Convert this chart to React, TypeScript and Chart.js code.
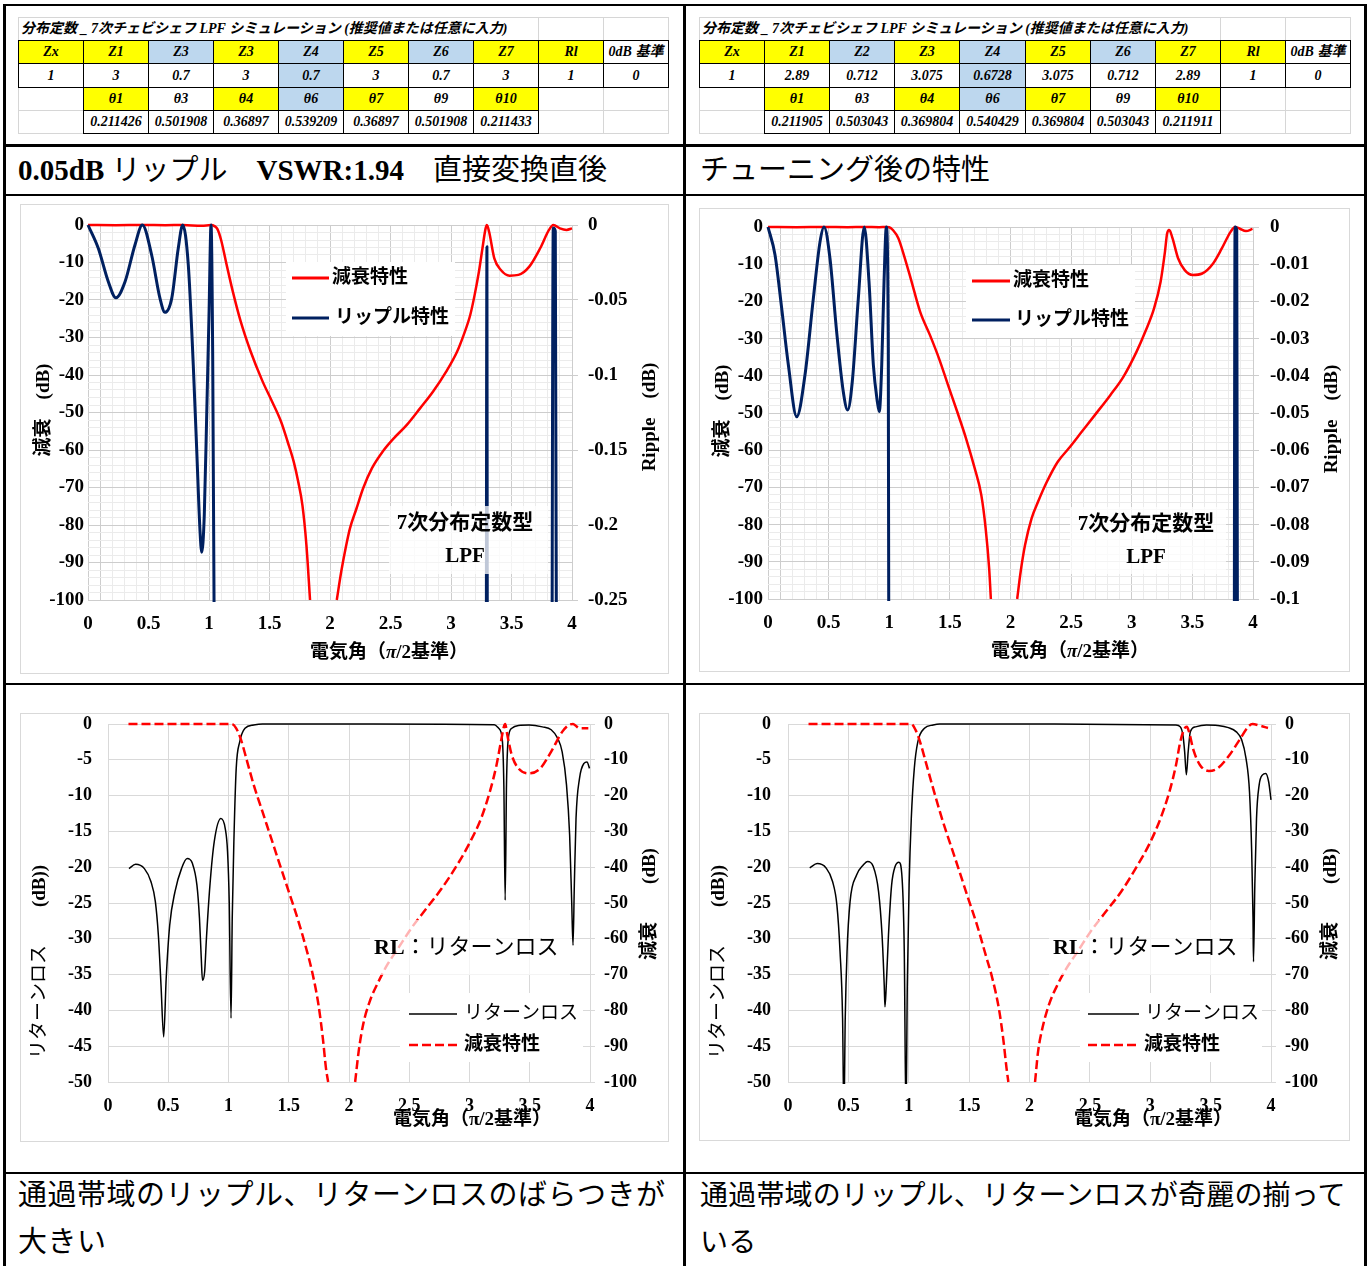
import React, { useEffect, useRef } from "react";
import { Chart, registerables } from "chart.js";

Chart.register(...registerables);

const SERIF = '"Liberation Serif", "Noto Sans CJK JP", serif';
const JP = '"Liberation Serif", "Noto Sans CJK JP", sans-serif';

// ---------- curve data (electrical angle in units of π/2, values in dB) ----------

// Straight conversion: attenuation
const ANGLE_ATT_BEFORE = [0, 0.23, 0.45, 0.64, 0.78, 0.94, 1.017, 1.045, 1.07, 1.1, 1.145, 1.195, 1.26, 1.345, 1.44, 1.52, 1.595, 1.65, 1.7, 1.737, 1.772, 1.805, 1.835, 1.95, 2.056, 2.093, 2.129, 2.165, 2.219, 2.274, 2.346, 2.436, 2.527, 2.635, 2.744, 2.852, 2.96, 3.05, 3.105, 3.159, 3.195, 3.231, 3.26, 3.286, 3.297, 3.315, 3.358, 3.412, 3.484, 3.557, 3.647, 3.737, 3.81, 3.846, 3.9, 3.955, 4];
const ATT_BEFORE = [0, -0.05, 0, -0.06, 0, -0.22, 0, -0.3, -1.1, -4, -10.5, -17.5, -25.5, -33.8, -41.5, -47, -52.4, -57.8, -63.1, -68.4, -74.7, -85.3, -100, null, -100, -92.4, -86.2, -80.9, -75.6, -70.2, -64.9, -60.4, -56.9, -53.3, -48.9, -44.4, -39.1, -33.8, -29.3, -24, -18.7, -12.4, -6.2, -0.9, 0, -1.8, -8.9, -12, -13.5, -13.3, -11.1, -6.2, -1.3, 0, -0.9, -1.3, -0.9];

// Straight conversion: passband ripple
const ANGLE_RIP_BEFORE = [0, 0.085, 0.168, 0.231, 0.306, 0.388, 0.449, 0.526, 0.595, 0.636, 0.692, 0.746, 0.783, 0.829, 0.87, 0.898, 0.926, 0.94, 0.961, 0.981, 1.0, 1.017, 1.03, 1.045, 1.07, 2.0, 3.286, 3.297, 3.315, 3.6, 3.83, 3.845, 3.862, 3.88, 3.9];
const RIP_BEFORE = [0, -0.0155, -0.0378, -0.0485, -0.0378, -0.0133, 0, -0.02, -0.0489, -0.0582, -0.0489, -0.0155, 0, -0.0267, -0.0933, -0.1489, -0.2044, -0.2182, -0.1933, -0.1267, -0.06, 0, -0.082, -0.3, -1.1, null, -0.9, -0.0145, -1.8, null, -0.5, -0.002, -0.004, -0.6, -0.9];

// After tuning: attenuation
const ANGLE_ATT_AFTER = [0, 0.237, 0.462, 0.657, 0.794, 0.918, 0.976, 1.0, 1.03, 1.075, 1.125, 1.18, 1.255, 1.335, 1.41, 1.485, 1.56, 1.633, 1.705, 1.759, 1.795, 1.824, 1.838, 1.95, 2.055, 2.084, 2.12, 2.174, 2.228, 2.3, 2.39, 2.481, 2.589, 2.697, 2.823, 2.932, 3.04, 3.112, 3.184, 3.238, 3.274, 3.292, 3.31, 3.336, 3.382, 3.437, 3.502, 3.581, 3.671, 3.744, 3.815, 3.852, 3.888, 3.942, 3.996];
const ATT_AFTER = [0, -0.051, 0, -0.049, 0, -0.05, 0, -0.05, -0.8, -3, -8, -14.2, -22.8, -29, -35.3, -42.5, -49.6, -56.8, -64.9, -72, -81, -91.8, -100, null, -100, -92.6, -85.5, -78.3, -73.8, -68.5, -63.1, -59.5, -55, -50.5, -45.2, -40.2, -33.5, -28.1, -21.9, -14.7, -6.6, -1.7, -0.8, -3, -8.4, -11.6, -12.9, -12.5, -9.8, -5.7, -1.3, 0, -0.4, -1.1, -0.5];

// After tuning: passband ripple
const ANGLE_RIP_AFTER = [0, 0.058, 0.113, 0.168, 0.237, 0.305, 0.374, 0.429, 0.462, 0.511, 0.566, 0.621, 0.657, 0.695, 0.745, 0.794, 0.833, 0.869, 0.902, 0.918, 0.938, 0.957, 0.976, 0.992, 1.03, 2.0, 3.84, 3.852, 3.866, 3.88, 3.942];
const RIP_AFTER = [0, -0.0075, -0.0219, -0.0371, -0.051, -0.0398, -0.0192, -0.004, 0, -0.0084, -0.0281, -0.0443, -0.0492, -0.0416, -0.0192, 0, -0.0147, -0.0371, -0.047, -0.0496, -0.0371, -0.0147, 0, -0.0326, -0.8, null, -0.3, 0, -0.0008, -0.3, -1.1];

// Straight conversion: return loss and attenuation
const ANGLE_RL_BEFORE = [0.174, 0.229, 0.302, 0.356, 0.393, 0.418, 0.44, 0.462, 0.483, 0.512, 0.556, 0.61, 0.657, 0.701, 0.738, 0.759, 0.774, 0.784, 0.802, 0.817, 0.846, 0.882, 0.937, 0.973, 0.992, 1.006, 1.021, 1.031, 1.046, 1.064, 1.093, 1.137, 1.209, 1.282, 2.2, 3.206, 3.242, 3.271, 3.285, 3.296, 3.307, 3.322, 3.351, 3.406, 3.496, 3.605, 3.678, 3.732, 3.769, 3.805, 3.831, 3.848, 3.859, 3.87, 3.884, 3.913, 3.95, 3.975, 3.996];
const RL_BEFORE = [-20.2, -19.6, -20.2, -22, -24.8, -29.5, -36.5, -43.7, -35.5, -28.1, -23.4, -20.2, -18.8, -19.5, -22.5, -27.1, -32.7, -35.8, -34.6, -29.9, -22.5, -16.4, -13.2, -14.6, -17.8, -24.8, -41.1, -27.1, -15.5, -6.2, -2.5, -0.6, -0.14, 0, 0, -0.1, -0.6, -2, -8.5, -24.6, -8.5, -2, -0.6, -0.2, -0.14, -0.4, -0.8, -2, -3.9, -8.5, -15.5, -24.8, -30.9, -22.5, -13.2, -7.6, -5.5, -5.3, -6.2];
const ANGLE_LOSS_BEFORE = [0.17, 1.027, 1.064, 1.1, 1.155, 1.209, 1.282, 1.354, 1.427, 1.5, 1.573, 1.645, 1.7, 1.747, 1.783, 1.809, 1.827, 1.95, 2.051, 2.08, 2.117, 2.171, 2.244, 2.317, 2.407, 2.516, 2.643, 2.77, 2.897, 3.006, 3.097, 3.169, 3.224, 3.261, 3.285, 3.296, 3.314, 3.351, 3.406, 3.496, 3.587, 3.678, 3.769, 3.823, 3.859, 3.913, 3.986];
const LOSS_BEFORE = [0, 0, -1.2, -4, -10.5, -17, -24.5, -31.9, -39.4, -46.8, -54.3, -62.7, -70.1, -78.5, -87.8, -96.2, -100, null, -100, -91.5, -84, -77.6, -72, -67.3, -62.7, -57.1, -51.5, -45.9, -39.4, -32.9, -26.3, -18.9, -11.5, -4.9, -0.8, 0, -3.1, -8.7, -12.4, -13.8, -12.4, -7.7, -2.2, -0.3, 0, -1.2, -1.2];

// After tuning: return loss and attenuation
const ANGLE_RL_AFTER = [0.18, 0.242, 0.315, 0.369, 0.405, 0.431, 0.452, 0.463, 0.474, 0.489, 0.514, 0.568, 0.623, 0.659, 0.706, 0.75, 0.779, 0.797, 0.803, 0.814, 0.832, 0.858, 0.887, 0.919, 0.945, 0.963, 0.977, 0.988, 1.003, 1.021, 1.046, 1.075, 1.13, 1.202, 1.256, 2.2, 3.212, 3.249, 3.27, 3.285, 3.299, 3.314, 3.332, 3.375, 3.466, 3.557, 3.647, 3.713, 3.757, 3.793, 3.822, 3.84, 3.851, 3.855, 3.866, 3.88, 3.902, 3.93, 3.956, 3.981, 4.0];
const RL_AFTER = [-20.1, -19.5, -20.1, -22, -25.3, -31.8, -41.1, -55, -41.1, -31.8, -24.8, -21.1, -19.7, -19.2, -19.9, -23.4, -29.5, -36.5, -39.5, -36.5, -29.5, -22.5, -19.9, -19.3, -21.6, -31.8, -55, -36.5, -22.5, -13.2, -6.2, -2.5, -0.6, -0.14, 0, 0, -0.14, -0.4, -1.5, -3.9, -7.1, -3.9, -1.1, -0.4, -0.14, -0.2, -0.5, -1.1, -2.2, -4.8, -9.5, -17.8, -27.1, -33.2, -22.5, -13.2, -8.5, -7.1, -6.9, -8.1, -10.6];
const ANGLE_LOSS_AFTER = [0.17, 1.021, 1.057, 1.093, 1.148, 1.202, 1.274, 1.347, 1.42, 1.492, 1.565, 1.637, 1.692, 1.746, 1.782, 1.81, 1.825, 1.95, 2.046, 2.071, 2.108, 2.162, 2.234, 2.307, 2.398, 2.506, 2.633, 2.76, 2.887, 2.996, 3.086, 3.159, 3.213, 3.249, 3.285, 3.303, 3.321, 3.358, 3.413, 3.485, 3.557, 3.647, 3.738, 3.81, 3.847, 3.902, 3.975];
const LOSS_AFTER = [0, 0, -1.7, -4.9, -11.5, -18, -26.3, -33.8, -41.2, -48.7, -56.1, -64.5, -71, -79.4, -87.8, -96.2, -100, null, -100, -91.5, -84.8, -78.3, -72.7, -68.2, -63.6, -58, -52.4, -46.8, -39.9, -33.3, -26.3, -18.9, -11.5, -4.9, -1.2, -0.8, -2.2, -7.3, -11.5, -13.1, -12.4, -9.1, -4.5, -0.8, 0, -0.4, -1.1];

// ---------- axis ranges ----------
const ANGLE_RANGE = [0, 4];
const ATT_RANGE = [-100, 0];
const RIPPLE_RANGE_BEFORE = [-0.25, 0];
const RIPPLE_RANGE_AFTER = [-0.1, 0];
const RL_RANGE = [-50, 0];

// ---------- spreadsheet contents ----------
const SHEET_TITLE = "分布定数 _ 7次チェビシェフ LPF シミュレーション (推奨値または任意に入力)";
const HEAD_BEFORE = ["Zx", "Z1", "Z3", "Z3", "Z4", "Z5", "Z6", "Z7", "Rl", "0dB 基準"];
const HEAD_AFTER = ["Zx", "Z1", "Z2", "Z3", "Z4", "Z5", "Z6", "Z7", "Rl", "0dB 基準"];
const Z_BEFORE = ["1", "3", "0.7", "3", "0.7", "3", "0.7", "3", "1", "0"];
const Z_AFTER = ["1", "2.89", "0.712", "3.075", "0.6728", "3.075", "0.712", "2.89", "1", "0"];
const THETA_NAMES = ["θ1", "θ3", "θ4", "θ6", "θ7", "θ9", "θ10"];
const THETA_BEFORE = ["0.211426", "0.501908", "0.36897", "0.539209", "0.36897", "0.501908", "0.211433"];
const THETA_AFTER = ["0.211905", "0.503043", "0.369804", "0.540429", "0.369804", "0.503043", "0.211911"];
const HEAD_FILL = "YYBYBYBYYW";
const Z_FILL = "WWWWBWWWWW";
const THETA_FILL = "YWYBYWY";
const FILL: Record<string, string> = { Y: "#ffff00", B: "#bdd7ee", W: "#ffffff" };

const RED = "#ff0000";
const NAVY = "#002060";
const MAJOR = "#cdcdcd";
const MINOR = "#ebebeb";
const PLAIN_GRID = "#d9d9d9";

type Run = { t: string; b?: boolean; i?: boolean };
type TextItem = { runs: Run[]; x: number; y: number; size: number; rot?: boolean; align?: "left" | "center" };
type LegendItem = { x1: number; x2: number; y: number; color: string; width: number; dash?: number[]; tx: number; runs: Run[]; size: number };
type Box = { x1: number; y1: number; x2: number; y2: number; a: number };

const pts = (xs: number[], ys: (number | null)[]) => xs.map((x, i) => ({ x, y: ys[i] }));
const near = (v: number, m: number) => Math.abs(v / m - Math.round(v / m)) < 1e-6;
const clean = (v: number) => String(Math.round(v * 1000) / 1000);

function fontOf(r: Run, size: number) {
  return `${r.i ? "italic " : ""}${r.b ? "bold " : ""}${size}px ${SERIF}`;
}

function drawRuns(ctx: CanvasRenderingContext2D, runs: Run[], x: number, y: number, size: number, align: string, rot: boolean) {
  ctx.save();
  ctx.translate(x, y);
  if (rot) ctx.rotate(-Math.PI / 2);
  ctx.textBaseline = "middle";
  ctx.textAlign = "left";
  ctx.fillStyle = "#000";
  let total = 0;
  const widths = runs.map((r) => {
    ctx.font = fontOf(r, size);
    const w = ctx.measureText(r.t).width;
    total += w;
    return w;
  });
  let cx = align === "center" ? -total / 2 : 0;
  runs.forEach((r, k) => {
    ctx.font = fontOf(r, size);
    ctx.fillText(r.t, cx, 0);
    cx += widths[k];
  });
  ctx.restore();
}

type Panel = {
  frame: [number, number, number, number];
  area: [number, number, number, number];
  fine: boolean;
  xStep: number;
  yL: number[];
  yLStep: number;
  yR: number[];
  yRStep: number;
  tickSize: number;
  leftPad: number;
  rightTick: number;
  rightPad: number;
  xPad: number;
  datasets: any[];
  texts: TextItem[];
  legend: LegendItem[];
  boxes: Box[];
};

function decorations(p: Panel) {
  return {
    id: "decorations",
    afterDatasetsDraw(chart: any) {
      const ctx: CanvasRenderingContext2D = chart.ctx;
      const [fl, ft] = p.frame;
      ctx.save();
      for (const b of p.boxes) {
        ctx.fillStyle = `rgba(255,255,255,${b.a})`;
        ctx.fillRect(b.x1 - fl, b.y1 - ft, b.x2 - b.x1, b.y2 - b.y1);
      }
      for (const l of p.legend) {
        ctx.beginPath();
        ctx.strokeStyle = l.color;
        ctx.lineWidth = l.width;
        ctx.setLineDash(l.dash || []);
        ctx.moveTo(l.x1 - fl, l.y - ft);
        ctx.lineTo(l.x2 - fl, l.y - ft);
        ctx.stroke();
        ctx.setLineDash([]);
        drawRuns(ctx, l.runs, l.tx - fl, l.y - ft, l.size, "left", false);
      }
      for (const t of p.texts) drawRuns(ctx, t.runs, t.x - fl, t.y - ft, t.size, t.align || "center", !!t.rot);
      ctx.restore();
    },
  };
}

// fix an axis box to a given size and drop its label overhang so the plot area lands where intended
const fixWidth = (w: number) => (s: any) => {
  s.width = w;
  s.paddingTop = 0;
  s.paddingBottom = 0;
};
const fixHeight = (h: number) => (s: any) => {
  s.height = h;
  s.paddingLeft = 0;
  s.paddingRight = 0;
};

function buildConfig(p: Panel): any {
  const [fl, ft, fw, fh] = p.frame;
  const [al, at, ar, ab] = p.area;
  const tickFont = { family: SERIF, size: p.tickSize, weight: "bold" };
  const xColor = (c: any) => {
    const v = c.tick ? c.tick.value : 0;
    if (!p.fine) return PLAIN_GRID;
    return near(v, 0.5) || Math.abs(v - 0.1) < 1e-6 ? MAJOR : MINOR;
  };
  const yColor = (c: any) => {
    const v = c.tick ? c.tick.value : 0;
    if (!p.fine) return PLAIN_GRID;
    return near(v, 10) ? MAJOR : MINOR;
  };
  return {
    type: "line",
    data: { datasets: p.datasets },
    options: {
      responsive: false,
      animation: false,
      events: [],
      layout: { autoPadding: false, padding: { top: at - ft, left: 0, right: 0, bottom: 0 } },
      plugins: { legend: { display: false }, tooltip: { enabled: false }, title: { display: false } },
      scales: {
        x: {
          type: "linear",
          position: "bottom",
          min: ANGLE_RANGE[0],
          max: ANGLE_RANGE[1],
          afterFit: fixHeight(ft + fh - ab),
          border: { display: false },
          grid: { color: xColor, lineWidth: 1, drawTicks: false },
          ticks: {
            stepSize: p.xStep,
            maxTicksLimit: 1000,
            autoSkip: false,
            maxRotation: 0,
            minRotation: 0,
            padding: p.xPad,
            color: "#000",
            font: tickFont,
            callback: (v: number) => (near(v, 0.5) ? clean(v) : ""),
          },
        },
        y: {
          type: "linear",
          position: "left",
          min: p.yL[0],
          max: p.yL[1],
          afterFit: fixWidth(al - fl),
          border: { display: false },
          grid: { color: yColor, lineWidth: 1, drawTicks: false },
          ticks: {
            stepSize: p.yLStep,
            maxTicksLimit: 1000,
            autoSkip: false,
            padding: p.leftPad,
            color: "#000",
            font: tickFont,
            callback: (v: number) => (!p.fine || near(v, 10) ? clean(v) : ""),
          },
        },
        y2: {
          type: "linear",
          position: "right",
          min: p.yR[0],
          max: p.yR[1],
          afterFit: fixWidth(fl + fw - ar),
          border: { display: false },
          grid: { drawOnChartArea: false, drawTicks: true, tickLength: p.rightTick, color: p.fine ? MAJOR : PLAIN_GRID },
          ticks: {
            stepSize: p.yRStep,
            maxTicksLimit: 1000,
            autoSkip: false,
            padding: p.rightPad,
            color: "#000",
            font: tickFont,
            callback: (v: number) => String(Math.round(v * 100) / 100),
          },
        },
      },
    },
    plugins: [decorations(p)],
  };
}

const CLIP = { left: 2, top: 3, right: 2, bottom: 2 };
const solid = (data: any[], color: string, width: number, axis: string, order: number) => ({
  data,
  yAxisID: axis,
  borderColor: color,
  borderWidth: width,
  pointRadius: 0,
  pointHoverRadius: 0,
  cubicInterpolationMode: "monotone",
  borderJoinStyle: "round",
  fill: false,
  order,
  clip: CLIP,
});

const ATT_TITLE: Run[] = [{ t: "減衰　(dB)", b: true }];
const RIPPLE_TITLE: Run[] = [{ t: "Ripple　(dB)", b: true }];
const ANGLE_TITLE: Run[] = [{ t: "電気角（", b: true }, { t: "π", b: true, i: true }, { t: "/2基準）", b: true }];
const ANGLE_TITLE_2: Run[] = [{ t: "電気角（π/2基準）", b: true }];
const RL_TITLE: Run[] = [{ t: "リターンロス　　" }, { t: "(dB))", b: true }];
const ATT_TITLE_2: Run[] = [{ t: "減衰　　(dB)", b: true }];
const RL_NOTE: Run[] = [{ t: "RL", b: true }, { t: "：リターンロス" }];

const PANEL_A: Panel = {
  frame: [20, 204, 649, 470],
  area: [88, 225, 572, 600],
  fine: true,
  xStep: 0.1,
  yL: ATT_RANGE,
  yLStep: 2,
  yR: RIPPLE_RANGE_BEFORE,
  yRStep: 0.05,
  tickSize: 19,
  leftPad: 4,
  rightTick: 6,
  rightPad: 10,
  xPad: 13,
  datasets: [
    solid(pts(ANGLE_RIP_BEFORE, RIP_BEFORE), NAVY, 3, "y2", 0),
    solid(pts(ANGLE_ATT_BEFORE, ATT_BEFORE), RED, 2.5, "y", 1),
  ],
  texts: [
    { runs: ATT_TITLE, x: 44, y: 410, size: 19, rot: true },
    { runs: RIPPLE_TITLE, x: 650, y: 417, size: 19, rot: true },
    { runs: ANGLE_TITLE, x: 389, y: 653, size: 19 },
    { runs: [{ t: "7次分布定数型", b: true }], x: 465, y: 524, size: 21 },
    { runs: [{ t: "LPF", b: true }], x: 465, y: 557, size: 21 },
  ],
  legend: [
    { x1: 292, x2: 329, y: 278, color: RED, width: 3, tx: 332, runs: [{ t: "減衰特性", b: true }], size: 19 },
    { x1: 292, x2: 329, y: 318, color: NAVY, width: 3, tx: 335, runs: [{ t: "リップル特性", b: true }], size: 19 },
  ],
  boxes: [
    { x1: 286, y1: 262, x2: 455, y2: 336, a: 1 },
    { x1: 389, y1: 506, x2: 548, y2: 574, a: 0.75 },
  ],
};

const PANEL_B: Panel = {
  frame: [699, 208, 651, 464],
  area: [768, 227, 1253, 599],
  fine: true,
  xStep: 0.1,
  yL: ATT_RANGE,
  yLStep: 2,
  yR: RIPPLE_RANGE_AFTER,
  yRStep: 0.01,
  tickSize: 19,
  leftPad: 5,
  rightTick: 6,
  rightPad: 11,
  xPad: 13,
  datasets: [
    solid(pts(ANGLE_RIP_AFTER, RIP_AFTER), NAVY, 3, "y2", 0),
    solid(pts(ANGLE_ATT_AFTER, ATT_AFTER), RED, 2.5, "y", 1),
  ],
  texts: [
    { runs: ATT_TITLE, x: 723, y: 411, size: 19, rot: true },
    { runs: RIPPLE_TITLE, x: 1332, y: 419, size: 19, rot: true },
    { runs: ANGLE_TITLE, x: 1070, y: 652, size: 19 },
    { runs: [{ t: "7次分布定数型", b: true }], x: 1146, y: 525, size: 21 },
    { runs: [{ t: "LPF", b: true }], x: 1146, y: 558, size: 21 },
  ],
  legend: [
    { x1: 972, x2: 1010, y: 281, color: RED, width: 3, tx: 1013, runs: [{ t: "減衰特性", b: true }], size: 19 },
    { x1: 972, x2: 1010, y: 320, color: NAVY, width: 3, tx: 1015, runs: [{ t: "リップル特性", b: true }], size: 19 },
  ],
  boxes: [
    { x1: 966, y1: 265, x2: 1135, y2: 338, a: 1 },
    { x1: 1070, y1: 507, x2: 1226, y2: 574, a: 0.75 },
  ],
};

const dashed = (data: any[], order: number) => ({
  data,
  yAxisID: "y2",
  borderColor: RED,
  borderWidth: 2.5,
  borderDash: [9, 4],
  pointRadius: 0,
  pointHoverRadius: 0,
  cubicInterpolationMode: "monotone",
  fill: false,
  order,
  clip: CLIP,
});

const PANEL_C: Panel = {
  frame: [20, 713, 649, 429],
  area: [108, 724, 590, 1082],
  fine: false,
  xStep: 0.5,
  yL: RL_RANGE,
  yLStep: 5,
  yR: ATT_RANGE,
  yRStep: 10,
  tickSize: 18,
  leftPad: 16,
  rightTick: 5,
  rightPad: 9,
  xPad: 13.5,
  datasets: [
    dashed(pts(ANGLE_LOSS_BEFORE, LOSS_BEFORE), 0),
    solid(pts(ANGLE_RL_BEFORE, RL_BEFORE), "#000", 1.5, "y", 1),
  ],
  texts: [
    { runs: RL_TITLE, x: 40, y: 962, size: 19, rot: true },
    { runs: ATT_TITLE_2, x: 650, y: 904, size: 19, rot: true },
    { runs: ANGLE_TITLE_2, x: 472, y: 1120, size: 19 },
    { runs: RL_NOTE, x: 374, y: 948, size: 22, align: "left" },
  ],
  legend: [
    { x1: 409, x2: 457, y: 1014, color: "#000", width: 1.5, tx: 464, runs: [{ t: "リターンロス" }], size: 19 },
    { x1: 409, x2: 459, y: 1045, color: RED, width: 2.5, dash: [9, 4], tx: 464, runs: [{ t: "減衰特性", b: true }], size: 19 },
  ],
  boxes: [
    { x1: 400, y1: 993, x2: 583, y2: 1062, a: 1 },
    { x1: 370, y1: 920, x2: 570, y2: 975, a: 0.7 },
  ],
};

const PANEL_D: Panel = {
  frame: [699, 713, 651, 428],
  area: [788, 724, 1271, 1082],
  fine: false,
  xStep: 0.5,
  yL: RL_RANGE,
  yLStep: 5,
  yR: ATT_RANGE,
  yRStep: 10,
  tickSize: 18,
  leftPad: 17,
  rightTick: 5,
  rightPad: 9,
  xPad: 13.5,
  datasets: [
    dashed(pts(ANGLE_LOSS_AFTER, LOSS_AFTER), 0),
    solid(pts(ANGLE_RL_AFTER, RL_AFTER), "#000", 1.5, "y", 1),
  ],
  texts: [
    { runs: RL_TITLE, x: 719, y: 962, size: 19, rot: true },
    { runs: ATT_TITLE_2, x: 1331, y: 904, size: 19, rot: true },
    { runs: ANGLE_TITLE_2, x: 1153, y: 1120, size: 19 },
    { runs: RL_NOTE, x: 1053, y: 948, size: 22, align: "left" },
  ],
  legend: [
    { x1: 1088, x2: 1139, y: 1014, color: "#000", width: 1.5, tx: 1145, runs: [{ t: "リターンロス" }], size: 19 },
    { x1: 1088, x2: 1139, y: 1045, color: RED, width: 2.5, dash: [9, 4], tx: 1144, runs: [{ t: "減衰特性", b: true }], size: 19 },
  ],
  boxes: [
    { x1: 1080, y1: 993, x2: 1262, y2: 1062, a: 1 },
    { x1: 1049, y1: 920, x2: 1250, y2: 975, a: 0.7 },
  ],
};

function PanelChart({ p }: { p: Panel }) {
  const ref = useRef<HTMLCanvasElement>(null);
  useEffect(() => {
    const chart = new Chart(ref.current as HTMLCanvasElement, buildConfig(p));
    return () => chart.destroy();
  }, [p]);
  const [l, t, w, h] = p.frame;
  return (
    <>
      <div style={{ position: "absolute", left: l, top: t, width: w, height: h, boxSizing: "border-box", border: "1px solid #d9d9d9" }} />
      <canvas ref={ref} width={w} height={h} style={{ position: "absolute", left: l, top: t, width: w, height: h }} />
    </>
  );
}

const ROWS = [17, 40, 63, 87, 110, 133];

function Sheet({ x0, colW, heads, zs, thetas }: { x0: number; colW: number; heads: string[]; zs: string[]; thetas: string[] }) {
  const cx = (c: number) => Math.round(x0 + c * colW);
  const cells: any[] = [];
  const cell = (key: string, c0: number, c1: number, r: number, fill: string, border: string, text: string, align = "center") => {
    const h = ROWS[r + 1] - ROWS[r];
    cells.push(
      <div
        key={key}
        style={{
          position: "absolute",
          left: cx(c0),
          top: ROWS[r],
          width: cx(c1) - cx(c0) + 1,
          height: h + 1,
          boxSizing: "border-box",
          border: `1px solid ${border}`,
          background: fill,
          font: `italic bold 14px ${SERIF}`,
          lineHeight: `${h - 1}px`,
          textAlign: align as any,
          paddingLeft: align === "left" ? 2 : 0,
          whiteSpace: "nowrap",
          overflow: "hidden",
          color: "#000",
        }}
      >
        {text}
      </div>
    );
  };
  const GRAY = "#d6d6d6";
  cell("t", 0, 8, 0, "#fff", GRAY, SHEET_TITLE, "left");
  cell("t8", 8, 9, 0, "#fff", GRAY, "");
  cell("t9", 9, 10, 0, "#fff", GRAY, "");
  for (const r of [3, 4]) {
    cell(`g0${r}`, 0, 1, r, "#fff", GRAY, "");
    cell(`g8${r}`, 8, 9, r, "#fff", GRAY, "");
    cell(`g9${r}`, 9, 10, r, "#fff", GRAY, "");
  }
  heads.forEach((h, c) => cell(`h${c}`, c, c + 1, 1, FILL[HEAD_FILL[c]], "#000", h));
  zs.forEach((v, c) => cell(`z${c}`, c, c + 1, 2, FILL[Z_FILL[c]], "#000", v));
  THETA_NAMES.forEach((n, k) => cell(`n${k}`, k + 1, k + 2, 3, FILL[THETA_FILL[k]], "#000", n));
  thetas.forEach((v, k) => cell(`v${k}`, k + 1, k + 2, 4, "#fff", "#000", v));
  return <>{cells}</>;
}

const line = (left: number, top: number, width: number, height: number) => (
  <div style={{ position: "absolute", left, top, width, height, background: "#000" }} />
);

export default function App() {
  return (
    <div style={{ position: "absolute", left: 0, top: 0, width: 1371, height: 1266, background: "#fff", overflow: "hidden", color: "#000" }}>
      <Sheet x0={18} colW={65} heads={HEAD_BEFORE} zs={Z_BEFORE} thetas={THETA_BEFORE} />
      <Sheet x0={699} colW={65.1} heads={HEAD_AFTER} zs={Z_AFTER} thetas={THETA_AFTER} />

      <div style={{ position: "absolute", left: 18, top: 150, height: 40, lineHeight: "40px", fontSize: 29, fontFamily: JP, whiteSpace: "nowrap" }}>
        <b>0.05dB</b> リップル　<b>VSWR:1.94</b>　直接変換直後
      </div>
      <div style={{ position: "absolute", left: 700, top: 150, height: 40, lineHeight: "40px", fontSize: 29, fontFamily: JP, whiteSpace: "nowrap" }}>
        チューニング後の特性
      </div>

      <PanelChart p={PANEL_A} />
      <PanelChart p={PANEL_B} />
      <PanelChart p={PANEL_C} />
      <PanelChart p={PANEL_D} />

      <div style={{ position: "absolute", left: 18, top: 1172, lineHeight: "47px", fontSize: 29, letterSpacing: "0.5px", fontFamily: JP, whiteSpace: "nowrap" }}>
        通過帯域のリップル、リターンロスのばらつきが
        <br />
        大きい
      </div>
      <div style={{ position: "absolute", left: 700, top: 1172, lineHeight: "47px", fontSize: 28, letterSpacing: "0.2px", fontFamily: JP, whiteSpace: "nowrap" }}>
        通過帯域のリップル、リターンロスが奇麗の揃って
        <br />
        いる
      </div>

      {line(3, 4, 1364, 2)}
      {line(3, 4, 3, 1262)}
      {line(683, 4, 3, 1262)}
      {line(1364, 4, 3, 1262)}
      {line(3, 144, 1364, 3)}
      {line(3, 194, 1364, 2)}
      {line(3, 683, 1364, 2)}
      {line(3, 1172, 1364, 2)}
    </div>
  );
}
